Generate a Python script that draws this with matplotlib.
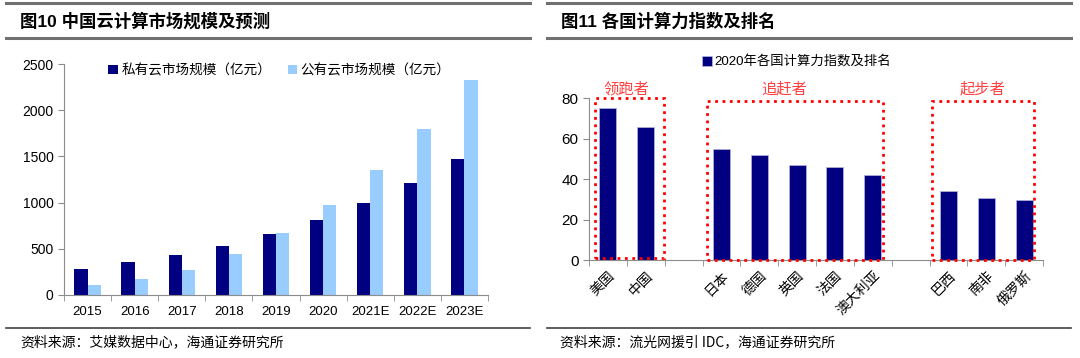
import numpy as np
import matplotlib
matplotlib.use('Agg')
import matplotlib.pyplot as plt
from matplotlib.lines import Line2D
from matplotlib.patches import Rectangle

plt.rcParams['font.family'] = ['Liberation Sans', 'Noto Sans CJK SC', 'DejaVu Sans']

# left chart: cloud market size
years = ['2015', '2016', '2017', '2018', '2019', '2020', '2021E', '2022E', '2023E']
private_cloud = [282, 354, 433, 530, 660, 812, 992, 1208, 1472]
public_cloud = [108, 177, 271, 444, 675, 978, 1353, 1793, 2330]

# right chart: computing power index 2020 ('' = empty slot)
countries = ['美国', '中国', '', '日本', '德国', '英国', '法国', '澳大利亚', '', '巴西', '南非', '俄罗斯']
index_vals = [75, 66, np.nan, 55, 52, 47, 46, 42, np.nan, 34, 31, 30]
groups = ['领跑者', '追赶者', '起步者']

navy = '#000080'
light = '#99ccff'
spine_c = '#8c8c8c'

fig = plt.figure(figsize=(10.8, 3.58), dpi=100)
W, H = 1080, 358

def fx(px):
    return px / W

def fy(py):
    return 1 - py / H

# header / footer rules
for x0, x1 in [(6, 530), (547, 1071)]:
    fig.add_artist(Line2D([fx(x0), fx(x1)], [fy(3), fy(3)], color='#707070', lw=2.2))
    fig.add_artist(Line2D([fx(x0), fx(x1)], [fy(38), fy(38)], color='#707070', lw=2.2))
    fig.add_artist(Line2D([fx(x0), fx(x1)], [fy(328), fy(328)], color='#404040', lw=1.2))

fig.text(fx(20), fy(21), '图10 中国云计算市场规模及预测', fontsize=12.5, fontweight='bold',
         va='center', ha='left')
fig.text(fx(561), fy(21), '图11 各国计算力指数及排名', fontsize=12.5, fontweight='bold',
         va='center', ha='left')
fig.text(fx(20), fy(342), '资料来源：艾媒数据中心，海通证券研究所', fontsize=10,
         va='center', ha='left', family=['Noto Sans CJK SC'])
fig.text(fx(560), fy(342), '资料来源：流光网援引 IDC，海通证券研究所', fontsize=10,
         va='center', ha='left', family=['Noto Sans CJK SC', 'Liberation Sans'])

# ---- left chart
ax1 = fig.add_axes([fx(64), fy(295), fx(488 - 64), (295 - 64) / H])
x = np.arange(len(years))
bw = 0.28
ax1.bar(x - bw / 2, private_cloud, bw, color=navy, label='私有云市场规模（亿元）')
ax1.bar(x + bw / 2, public_cloud, bw, color=light, label='公有云市场规模（亿元）')
ax1.set_xlim(-0.5, len(years) - 0.5)
ax1.set_ylim(0, 2500)
ax1.set_yticks(np.arange(0, 2501, 500))
ax1.set_xticks(x)
ax1.set_xticklabels(years, fontsize=9.5)
ax1.set_xticks(np.arange(-0.5, len(years)), minor=True)
ax1.tick_params(axis='x', which='major', length=0, pad=8)
ax1.tick_params(axis='x', which='minor', length=4, color=spine_c)
ax1.tick_params(axis='y', length=4, color=spine_c, labelsize=10)
for s in ['top', 'right']:
    ax1.spines[s].set_visible(False)
for s in ['left', 'bottom']:
    ax1.spines[s].set_color(spine_c)
ax1.legend(loc='upper left', bbox_to_anchor=(fx(103), fy(58)), bbox_transform=fig.transFigure,
           ncol=2, frameon=False, fontsize=9.8, handlelength=0.7, handleheight=0.7,
           handletextpad=0.25, columnspacing=1.2, borderaxespad=0)

# ---- right chart
ax2 = fig.add_axes([fx(589), fy(260.3), fx(1043 - 589), (260.3 - 98.3) / H])
xi = np.arange(len(countries))
ax2.bar(xi, index_vals, 0.45, color=navy, edgecolor='#b8b8e0', linewidth=0.5,
        label='2020年各国计算力指数及排名')
ax2.set_xlim(-0.5, len(countries) - 0.5)
ax2.set_ylim(0, 80)
ax2.set_yticks(np.arange(0, 81, 20))
ax2.set_xticks(xi)
ax2.set_xticklabels(countries, rotation=45, ha='right', va='top', rotation_mode='anchor',
                    fontsize=10, family=['Noto Sans CJK SC'])
ax2.set_xticks(np.arange(-0.5, len(countries)), minor=True)
ax2.tick_params(axis='x', which='major', length=0, pad=6)
ax2.tick_params(axis='x', which='minor', length=4, color=spine_c)
ax2.tick_params(axis='y', length=4, color=spine_c, labelsize=11)
for s in ['top', 'right']:
    ax2.spines[s].set_visible(False)
for s in ['left', 'bottom']:
    ax2.spines[s].set_color(spine_c)
ax2.legend(loc='center left', bbox_to_anchor=(fx(697), fy(62)), bbox_transform=fig.transFigure,
           frameon=False, fontsize=9.6, handlelength=0.7, handleheight=0.7,
           handletextpad=0.2, borderaxespad=0)

# dotted group boxes and labels
boxes = [(-0.34, 1.0, 1.47, 80.0), (2.61, 0.2, 7.28, 78.8), (8.56, 0.2, 11.27, 78.8)]
label_x = [0.5, 4.65, 9.9]
for (x0, y0, x1, y1), lx, name in zip(boxes, label_x, groups):
    ax2.add_patch(Rectangle((x0, y0), x1 - x0, y1 - y0, fill=False, edgecolor='red',
                            linestyle=':', linewidth=2, clip_on=False, zorder=3))
    ax2.text(lx, 84.5, name, color='#ff4040', fontsize=11, ha='center', va='center',
             family=['Noto Sans CJK SC'])

fig.savefig('out.png', dpi=100)
